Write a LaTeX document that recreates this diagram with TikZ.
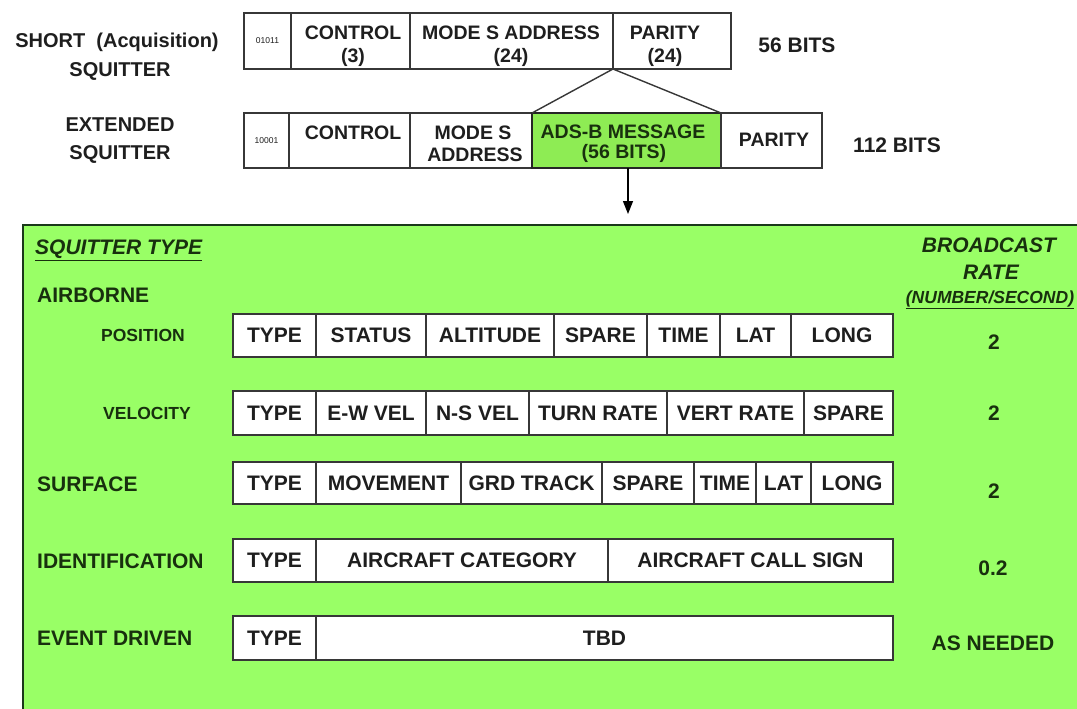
\documentclass[tikz,border=0pt]{standalone}
\usepackage{fontspec}
\setmainfont{Liberation Sans}
\usetikzlibrary{arrows.meta}
\definecolor{panelgreen}{RGB}{153,255,102}
\definecolor{adsgreen}{RGB}{142,236,84}
\definecolor{greentxt}{RGB}{24,48,14}
\definecolor{edgegray}{RGB}{55,55,55}
\definecolor{blacktxt}{RGB}{30,30,30}
\newcommand{\mkcell}[7]{\node[#1, minimum width={(#4-#3)*1pt}, minimum height={(#6-#5)*1pt}] (#2) at (#3,#5) {#7};}
\begin{document}
\begin{tikzpicture}[x=1pt,y=-1pt,
  topcell/.style={draw=edgegray, line width=1.5pt, fill=white, inner sep=0pt, outer sep=0pt, anchor=north west},
  rowcell/.style={draw=edgegray, line width=1.5pt, fill=white, inner sep=0pt, outer sep=0pt, anchor=north west,
                  text=blacktxt, font=\bfseries\fontsize{21}{24}\selectfont},
  toptxt/.style={text=blacktxt, font=\bfseries\fontsize{19.5}{22}\selectfont, inner sep=0pt},
  tinytxt/.style={text=blacktxt, font=\fontsize{8.5}{9}\selectfont, inner sep=0pt},
  sidetxt/.style={text=blacktxt, font=\bfseries\fontsize{20}{24}\selectfont, inner sep=0pt, align=center},
  bitstxt/.style={text=blacktxt, font=\bfseries\fontsize{21}{24}\selectfont, inner sep=0pt},
  grnlabel/.style={text=greentxt, font=\bfseries\fontsize{21}{24}\selectfont, inner sep=0pt, anchor=west},
  sublabel/.style={text=greentxt, font=\bfseries\fontsize{17.5}{20}\selectfont, inner sep=0pt},
  ratetxt/.style={text=greentxt, font=\bfseries\fontsize{21}{24}\selectfont, inner sep=0pt},
  headtxt/.style={text=greentxt, font=\bfseries\itshape\fontsize{21}{24}\selectfont, inner sep=0pt},
  panelbox/.style={draw=edgegray!80!green!60!black, line width=2.2pt, fill=panelgreen, anchor=north west, inner sep=0pt, outer sep=0pt},
  link/.style={draw=edgegray, line width=1.4pt},
  arrowline/.style={draw=black, line width=1.4pt, -{Triangle[width=10pt,length=13pt]}}
]
\useasboundingbox (0,0) rectangle (1077,709);
\clip (0,0) rectangle (1077,709);
\fill[white] (0,0) rectangle (1077,709);

% ---------- short squitter ----------
\node[sidetxt] (shortlbl) at (117,42) {SHORT\ \ (Acquisition)};
\node[sidetxt] (shortsq) at (120,71) {SQUITTER};
\mkcell{topcell}{sa}{244}{291}{13}{69}{}
\mkcell{topcell}{sb}{291}{410}{13}{69}{}
\mkcell{topcell}{sc}{410}{613}{13}{69}{}
\mkcell{topcell}{sd}{613}{731}{13}{69}{}
\node[tinytxt] (sat) at (sa.center) {01011};
\node[toptxt] (sbt1) at (353,33) {CONTROL};
\node[toptxt] (sbt2) at (353,57) {(3)};
\node[toptxt] (sct1) at (511,33) {MODE S ADDRESS};
\node[toptxt] (sct2) at (511,57) {(24)};
\node[toptxt] (sdt1) at (665,33) {PARITY};
\node[toptxt] (sdt2) at (665,57) {(24)};
\node[bitstxt] (bits56) at (797,45) {56 BITS};

% ---------- extended squitter ----------
\node[sidetxt] (extlbl) at (120,125) {EXTENDED};
\node[sidetxt] (extsq) at (120,154) {SQUITTER};
\mkcell{topcell}{ea}{244}{289}{113}{168}{}
\mkcell{topcell}{eb}{289}{410}{113}{168}{}
\mkcell{topcell}{ec}{410}{532}{113}{168}{}
\mkcell{topcell, fill=adsgreen, draw=black!85}{ads}{532}{721}{113}{168}{}
\mkcell{topcell}{ee}{721}{822}{113}{168}{}
\node[tinytxt] (eat) at (ea.center) {10001};
\node[toptxt] (ebt) at (353,133) {CONTROL};
\node[toptxt] (ect1) at (473,133) {MODE S};
\node[toptxt] (ect2) at (475,155) {ADDRESS};
\node[toptxt, text=greentxt] (adst1) at (623,132) {ADS-B MESSAGE};
\node[toptxt, text=greentxt] (adst2) at (624,153) {(56 BITS)};
\node[toptxt] (eet) at (774,140) {PARITY};
\node[bitstxt] (bits112) at (897,145) {112 BITS};

% expansion lines
\draw[link] (sd.south west) -- (ads.north west);
\draw[link] (sd.south west) -- (ads.north east);

% ---------- panel ----------
\node[panelbox, minimum width=1080pt, minimum height=500pt] (panel) at (23,225) {};
\coordinate (tip) at (628,214);
\draw[arrowline] (ads.south -| tip) -- (tip);

\node[headtxt, anchor=west] (sqtype) at (35,250) {\underline{SQUITTER TYPE}};
\node[headtxt] (bc1) at (989,245) {BROADCAST};
\node[headtxt] (bc2) at (991,272) {RATE};
\node[headtxt, font=\bfseries\itshape\fontsize{17.5}{20}\selectfont] (bc3) at (990,300) {\underline{(NUMBER/SECOND)}};

\node[grnlabel] (airb) at (37,295) {AIRBORNE};
\node[sublabel] (posl) at (143,335) {POSITION};
\node[sublabel] (vell) at (147,413) {VELOCITY};
\node[grnlabel] (surfl) at (37,484) {SURFACE};
\node[grnlabel] (identl) at (37,561) {IDENTIFICATION};
\node[grnlabel] (eventl) at (37,638) {EVENT DRIVEN};

% position row
\mkcell{rowcell}{p1}{233}{316}{314}{357}{TYPE}
\mkcell{rowcell}{p2}{316}{426}{314}{357}{STATUS}
\mkcell{rowcell}{p3}{426}{554}{314}{357}{ALTITUDE}
\mkcell{rowcell}{p4}{554}{647}{314}{357}{SPARE}
\mkcell{rowcell}{p5}{647}{720}{314}{357}{TIME}
\mkcell{rowcell}{p6}{720}{791}{314}{357}{LAT}
\mkcell{rowcell}{p7}{791}{893}{314}{357}{LONG}
% velocity row
\mkcell{rowcell}{v1}{233}{316}{391}{435}{TYPE}
\mkcell{rowcell}{v2}{316}{426}{391}{435}{E-W VEL}
\mkcell{rowcell}{v3}{426}{529}{391}{435}{N-S VEL}
\mkcell{rowcell}{v4}{529}{667}{391}{435}{TURN RATE}
\mkcell{rowcell}{v5}{667}{804}{391}{435}{VERT RATE}
\mkcell{rowcell}{v6}{804}{893}{391}{435}{SPARE}
% surface row
\mkcell{rowcell}{s1}{233}{316}{462}{504}{TYPE}
\mkcell{rowcell}{s2}{316}{461}{462}{504}{MOVEMENT}
\mkcell{rowcell}{s3}{461}{602}{462}{504}{GRD TRACK}
\mkcell{rowcell}{s4}{602}{694}{462}{504}{SPARE}
\mkcell{rowcell}{s5}{694}{756}{462}{504}{TIME}
\mkcell{rowcell}{s6}{756}{811}{462}{504}{LAT}
\mkcell{rowcell}{s7}{811}{893}{462}{504}{LONG}
% identification row
\mkcell{rowcell}{i1}{233}{316}{539}{582}{TYPE}
\mkcell{rowcell}{i2}{316}{608}{539}{582}{AIRCRAFT CATEGORY}
\mkcell{rowcell}{i3}{608}{893}{539}{582}{AIRCRAFT CALL SIGN}
% event row
\mkcell{rowcell}{d1}{233}{316}{616}{660}{TYPE}
\mkcell{rowcell}{d2}{316}{893}{616}{660}{TBD}

% rates
\node[ratetxt] (r1) at (994,342) {2};
\node[ratetxt] (r2) at (994,413) {2};
\node[ratetxt] (r3) at (994,491) {2};
\node[ratetxt] (r4) at (993,568) {0.2};
\node[ratetxt] (r5) at (993,643) {AS NEEDED};
\end{tikzpicture}
\end{document}
